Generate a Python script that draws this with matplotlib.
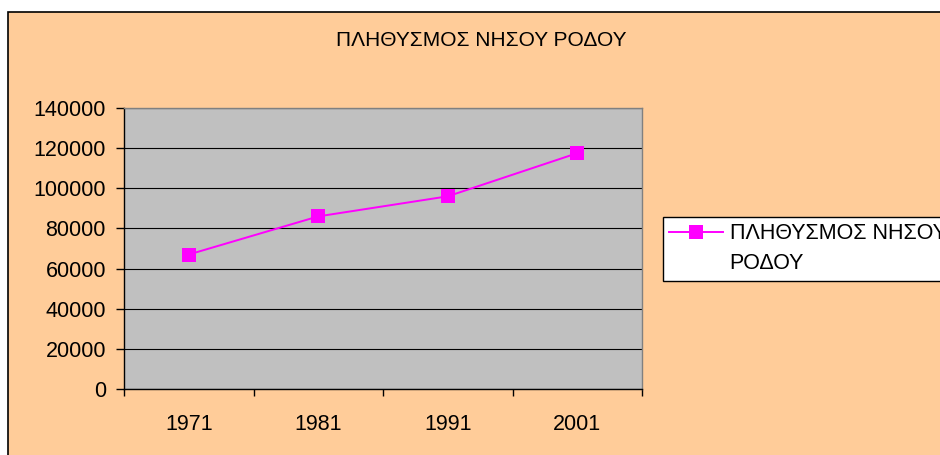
import matplotlib
matplotlib.use("Agg")
import matplotlib.pyplot as plt
from matplotlib.patches import Rectangle
from matplotlib.lines import Line2D
import numpy as np

plt.rcParams['font.family'] = ['Liberation Sans', 'DejaVu Sans']

# data
years = ["1971", "1981", "1991", "2001"]
population = [67000, 86000, 96000, 117500]
yticks = [0, 20000, 40000, 60000, 80000, 100000, 120000, 140000]
title = "ΠΛΗΘΥΣΜΟΣ ΝΗΣΟΥ ΡΟΔΟΥ"
series_label = ["ΠΛΗΘΥΣΜΟΣ ΝΗΣΟΥ", "ΡΟΔΟΥ"]

W, H = 940, 455
fig = plt.figure(figsize=(W / 100, H / 100), dpi=100)
fig.patch.set_facecolor("white")

# chart area (peach) with black frame, cut off on the right and bottom
fig.add_artist(Rectangle((8 / W, -0.1), 1.2, 1 - 12 / H + 0.1,
                         transform=fig.transFigure, facecolor="#FFCC99",
                         edgecolor="black", linewidth=1.2, zorder=0))

ax = fig.add_axes([124 / W, 1 - 389 / H, (642 - 124) / W, (389 - 108) / H])
ax.set_facecolor("#C0C0C0")

x = np.arange(len(years))
line, = ax.plot(x, population, color="#FF00FF", linewidth=1.4, marker="s",
                markersize=10, markeredgewidth=0, zorder=3)

ax.set_xlim(-0.5, len(years) - 0.5)
ax.set_ylim(0, 140000)
ax.set_yticks(yticks)
ax.set_yticklabels([str(v) for v in yticks])
ax.yaxis.grid(True, color="black", linewidth=0.8)
ax.set_axisbelow(True)

ax.set_xticks(x)
ax.set_xticklabels(years)
ax.set_xticks(np.arange(len(years) + 1) - 0.5, minor=True)
ax.tick_params(axis="x", which="major", length=0, pad=18, labelsize=15.5)
ax.tick_params(axis="x", which="minor", length=5, width=1, direction="out")
ax.tick_params(axis="y", length=6, width=1, direction="out", pad=7,
               labelsize=15.5)

for s in ["top", "right"]:
    ax.spines[s].set_color("#808080")
    ax.spines[s].set_linewidth(1)
for s in ["left", "bottom"]:
    ax.spines[s].set_color("black")
    ax.spines[s].set_linewidth(1)

fig.text(481 / W, 1 - 40 / H, title, ha="center", va="center", fontsize=15)

# legend label wraps onto a second line, the marker sits on the first
blank = Line2D([], [], linestyle="none", marker="none")
leg = ax.legend([line, blank], series_label, loc="upper left",
                bbox_to_anchor=(663 / W, 1 - 217 / H),
                bbox_transform=fig.transFigure, fontsize=15.5, frameon=True,
                fancybox=False, edgecolor="black", facecolor="white",
                framealpha=1, borderaxespad=0, borderpad=0.3,
                labelspacing=0.4, handlelength=2.5, handletextpad=0.3)
leg.get_frame().set_linewidth(1)

fig.savefig("out.png", dpi=100, facecolor=fig.get_facecolor())
